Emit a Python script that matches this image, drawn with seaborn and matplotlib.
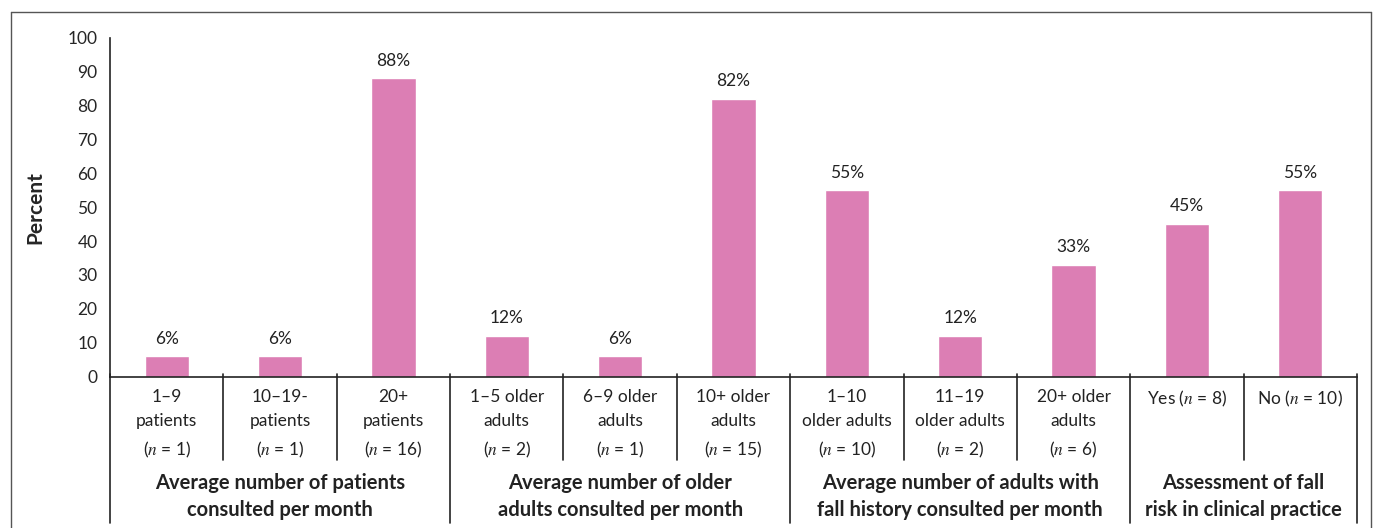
import matplotlib
matplotlib.use("Agg")
import matplotlib.pyplot as plt
from matplotlib.lines import Line2D
import seaborn as sns
import pandas as pd

categories = [
    "1–9\npatients\n($n$ = 1)",
    "10–19-\npatients\n($n$ = 1)",
    "20+\npatients\n($n$ = 16)",
    "1–5 older\nadults\n($n$ = 2)",
    "6–9 older\nadults\n($n$ = 1)",
    "10+ older\nadults\n($n$ = 15)",
    "1–10\nolder adults\n($n$ = 10)",
    "11–19\nolder adults\n($n$ = 2)",
    "20+ older\nadults\n($n$ = 6)",
    "Yes ($n$ = 8)",
    "No ($n$ = 10)",
]
percent = [6, 6, 88, 12, 6, 82, 55, 12, 33, 45, 55]
groups = [
    "Average number of patients\nconsulted per month",
    "Average number of older\nadults consulted per month",
    "Average number of adults with\nfall history consulted per month",
    "Assessment of fall\nrisk in clinical practice",
]
group_sizes = [3, 3, 3, 2]

sns.set_style("white")
plt.rcParams["font.family"] = ["Lato", "DejaVu Sans"]
plt.rcParams["mathtext.fontset"] = "stix"

df = pd.DataFrame({"Category": categories, "Percent": percent})

fig = plt.figure(figsize=(13.75, 5.28), dpi=100)
ax = fig.add_axes([0.08, 0.2866, 0.9069, 0.642])

sns.barplot(data=df, x="Category", y="Percent", color="#DC7EB4",
            width=0.39, saturation=1, ax=ax)
ax.bar_label(ax.containers[0], fmt="%g%%", padding=7, fontsize=12.5, color="#222222")

ax.set_xlim(-0.5, len(categories) - 0.5)
ax.set_ylim(0, 100)
ax.set_yticks(range(0, 101, 10))
ax.tick_params(axis="y", length=5, width=1, labelsize=12.5, color="#222222", pad=4)
ax.set_ylabel("Percent", fontsize=15, fontweight="bold", labelpad=16)
ax.set_xlabel("")
ax.set_xticks([])
for s in ["top", "right"]:
    ax.spines[s].set_visible(False)
for s in ["left", "bottom"]:
    ax.spines[s].set_color("#222222")
    ax.spines[s].set_linewidth(1.2)

trans = ax.get_xaxis_transform()
for i, lab in enumerate(categories):
    ax.text(i, -0.036, lab, transform=trans, ha="center", va="top",
            fontsize=12.5, linespacing=1.65, color="#222222")

# table lines below the axis
edges = [0]
for g in group_sizes:
    edges.append(edges[-1] + g)
for k in range(len(categories) + 1):
    bottom = -0.432 if k in edges else -0.246
    ax.add_line(Line2D([k - 0.5, k - 0.5], [0.008, bottom], transform=trans,
                       color="#222222", lw=1.2, clip_on=False))

for g, (lab, size) in enumerate(zip(groups, group_sizes)):
    center = edges[g] + size / 2 - 0.5
    ax.text(center, -0.285, lab, transform=trans, ha="center", va="top",
            fontsize=14.5, fontweight="bold", linespacing=1.4, color="#222222")

# outer frame
fc = "#555555"
fig.add_artist(Line2D([11 / 1375, 11 / 1375], [0, 1 - 12 / 528], color=fc, lw=1))
fig.add_artist(Line2D([11 / 1375, 1371 / 1375], [1 - 12 / 528, 1 - 12 / 528], color=fc, lw=1))
fig.add_artist(Line2D([1371 / 1375, 1371 / 1375], [0, 1 - 12 / 528], color=fc, lw=1))

fig.savefig("out.png", dpi=100)
